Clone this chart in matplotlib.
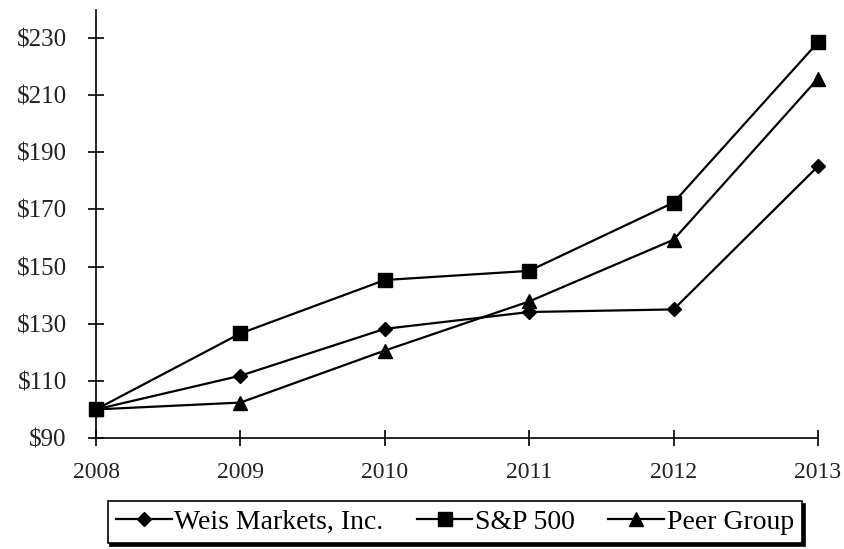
import matplotlib
matplotlib.use("Agg")
import matplotlib.pyplot as plt

years = [2008, 2009, 2010, 2011, 2012, 2013]
weis = [100, 111.8, 128.2, 134.1, 135.0, 185.1]
sp500 = [100, 126.6, 145.3, 148.5, 172.4, 228.5]
peer = [100, 102.4, 120.6, 137.8, 159.4, 215.8]
yticks = [90, 110, 130, 150, 170, 190, 210, 230]
ytick_labels = ["$90", "$110", "$130", "$150", "$170", "$190", "$210", "$230"]

plt.rcParams['font.family'] = ['Liberation Serif', 'DejaVu Serif']
plt.rcParams['font.size'] = 17

fig = plt.figure(figsize=(8.44, 5.49), dpi=100)
ax = fig.add_axes([96/844, 1-438/549, (818-96)/844, (438-10)/549])

lw = 1.6
ax.plot(years, weis, color='black', lw=lw, marker='D', ms=7, label='Weis Markets, Inc.')
ax.plot(years, sp500, color='black', lw=lw, marker='s', ms=10.5, label='S&P 500')
ax.plot(years, peer, color='black', lw=lw, marker='^', ms=10, label='Peer Group')

ax.set_xlim(2008, 2013)
ax.set_ylim(90, 239.8)
ax.set_xticks(years)
ax.set_xticklabels([str(y) for y in years])
ax.set_yticks(yticks)
ax.set_yticklabels(ytick_labels, fontsize=18)
for s in ['top', 'right']:
    ax.spines[s].set_visible(False)
for s in ['left', 'bottom']:
    ax.spines[s].set_linewidth(1.2)
    ax.spines[s].set_color('black')
ax.tick_params(axis='y', direction='inout', length=12, width=1.2, pad=15, colors='black', labelcolor='#222222')
ax.tick_params(axis='x', direction='inout', length=12, width=1.2, pad=11, colors='black', labelcolor='#222222')
for line in ax.lines:
    line.set_clip_on(False)

leg = fig.legend(loc='center', bbox_to_anchor=(455/844, 1-522/549), ncol=3,
                 frameon=True, fancybox=False, shadow={'color': 'black', 'alpha': 1},
                 edgecolor='black', handlelength=2.0, handletextpad=0.1, columnspacing=1.2,
                 borderpad=0.3, fontsize=20)
leg.get_frame().set_linewidth(1.2)

fig.savefig('out.png', dpi=100)
